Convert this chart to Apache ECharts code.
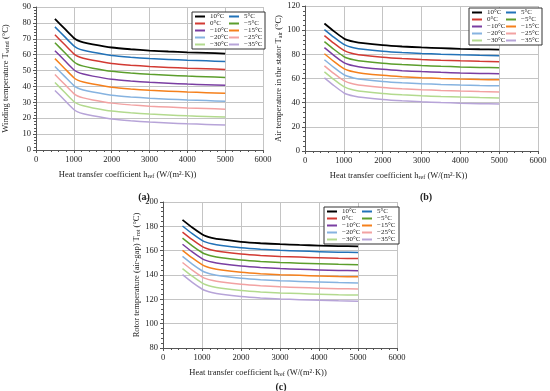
<!DOCTYPE html>
<html><head><meta charset="utf-8">
<script src="https://cdn.jsdelivr.net/npm/echarts@6/dist/echarts.min.js"></script>
<style>html,body{margin:0;padding:0;background:#fff}#c{width:550px;height:391px}</style>
</head><body><div id="c"></div>
<script>
// x values (heat transfer coefficient h_ref, W/(m²·K))
var hRef = [500, 750, 1000, 1100, 1250, 1500, 2000, 2500, 3000, 3500, 4000, 4500, 5000];
var seriesNames = ['10°C', '5°C', '0°C', '−5°C', '−10°C', '−15°C', '−20°C', '−25°C', '−30°C', '−35°C'];
var xTicks = [0, 1000, 2000, 3000, 4000, 5000, 6000];

// (a) Winding temperature
var windT = [
  [82.5, 76.5, 70.5, 69.0, 67.8, 66.5, 64.5, 63.4, 62.6, 62.0, 61.5, 61.1, 60.7],
  [77.5, 71.5, 65.5, 64.0, 62.8, 61.5, 59.5, 58.4, 57.6, 57.0, 56.5, 56.1, 55.7],
  [72.5, 66.5, 60.5, 59.0, 57.8, 56.5, 54.5, 53.4, 52.6, 52.0, 51.5, 51.1, 50.7],
  [67.5, 61.5, 55.5, 54.0, 52.8, 51.5, 49.5, 48.4, 47.6, 47.0, 46.5, 46.1, 45.7],
  [62.5, 56.5, 50.5, 49.0, 47.8, 46.5, 44.5, 43.4, 42.6, 42.0, 41.5, 41.1, 40.7],
  [57.5, 51.5, 45.5, 44.0, 42.8, 41.5, 39.5, 38.4, 37.6, 37.0, 36.5, 36.1, 35.7],
  [52.5, 46.5, 40.5, 39.0, 37.8, 36.5, 34.5, 33.4, 32.6, 32.0, 31.5, 31.1, 30.7],
  [47.5, 41.5, 35.5, 34.0, 32.8, 31.5, 29.5, 28.4, 27.6, 27.0, 26.5, 26.1, 25.7],
  [42.5, 36.5, 30.5, 29.0, 27.8, 26.5, 24.5, 23.4, 22.6, 22.0, 21.5, 21.1, 20.7],
  [37.5, 31.5, 25.5, 24.0, 22.8, 21.5, 19.5, 18.4, 17.6, 17.0, 16.5, 16.1, 15.7]
];
// (b) Air temperature in the stator
var airT = [
  [105.5, 99.0, 93.2, 91.8, 90.5, 89.2, 87.6, 86.5, 85.7, 85.1, 84.6, 84.2, 83.9],
  [100.5, 94.0, 88.2, 86.8, 85.5, 84.2, 82.6, 81.5, 80.7, 80.1, 79.6, 79.2, 78.9],
  [95.5, 89.0, 83.2, 81.8, 80.5, 79.2, 77.6, 76.5, 75.7, 75.1, 74.6, 74.2, 73.9],
  [90.5, 84.0, 78.2, 76.8, 75.5, 74.2, 72.6, 71.5, 70.7, 70.1, 69.6, 69.2, 68.9],
  [85.5, 79.0, 73.2, 71.8, 70.5, 69.2, 67.6, 66.5, 65.7, 65.1, 64.6, 64.2, 63.9],
  [80.5, 74.0, 68.2, 66.8, 65.5, 64.2, 62.6, 61.5, 60.7, 60.1, 59.6, 59.2, 58.9],
  [75.5, 69.0, 63.2, 61.8, 60.5, 59.2, 57.6, 56.5, 55.7, 55.1, 54.6, 54.2, 53.9],
  [70.5, 64.0, 58.2, 56.8, 55.5, 54.2, 52.6, 51.5, 50.7, 50.1, 49.6, 49.2, 48.9],
  [65.5, 59.0, 53.2, 51.8, 50.5, 49.2, 47.6, 46.5, 45.7, 45.1, 44.6, 44.2, 43.9],
  [60.5, 54.0, 48.2, 46.8, 45.5, 44.2, 42.6, 41.5, 40.7, 40.1, 39.6, 39.2, 38.9]
];
// (c) Rotor temperature (air-gap)
var rotT = [
  [185.3, 179.0, 173.5, 172.0, 170.6, 169.2, 167.3, 166.1, 165.3, 164.7, 164.2, 163.8, 163.5],
  [180.3, 174.0, 168.5, 167.0, 165.6, 164.2, 162.3, 161.1, 160.3, 159.7, 159.2, 158.8, 158.5],
  [175.3, 169.0, 163.5, 162.0, 160.6, 159.2, 157.3, 156.1, 155.3, 154.7, 154.2, 153.8, 153.5],
  [170.3, 164.0, 158.5, 157.0, 155.6, 154.2, 152.3, 151.1, 150.3, 149.7, 149.2, 148.8, 148.5],
  [165.3, 159.0, 153.5, 152.0, 150.6, 149.2, 147.3, 146.1, 145.3, 144.7, 144.2, 143.8, 143.5],
  [160.3, 154.0, 148.5, 147.0, 145.6, 144.2, 142.3, 141.1, 140.3, 139.7, 139.2, 138.8, 138.5],
  [155.3, 149.0, 143.5, 142.0, 140.6, 139.2, 137.3, 136.1, 135.3, 134.7, 134.2, 133.8, 133.5],
  [150.3, 144.0, 138.5, 137.0, 135.6, 134.2, 132.3, 131.1, 130.3, 129.7, 129.2, 128.8, 128.5],
  [145.3, 139.0, 133.5, 132.0, 130.6, 129.2, 127.3, 126.1, 125.3, 124.7, 124.2, 123.8, 123.5],
  [140.3, 134.0, 128.5, 127.0, 125.6, 124.2, 122.3, 121.1, 120.3, 119.7, 119.2, 118.8, 118.5]
];
var windTicks = [0, 10, 20, 30, 40, 50, 60, 70, 80, 90];
var airTicks = [0, 20, 40, 60, 80, 100, 120];
var rotTicks = [80, 100, 120, 140, 160, 180, 200];

var colors = ['#000000', '#2272b8', '#d23a33', '#5c9e2c', '#7a3ea2', '#f5801c', '#86b3e0', '#f2a2a2', '#b3da8e', '#b7a4d8'];
var FONT = 'Liberation Serif';
var subRich = { s: { fontSize: 6, fontFamily: FONT, color: '#222', verticalAlign: 'bottom', padding: [3, 0, 0, 0] } };
var plainNum = function (v) { return String(v); };

function xAxisCfg(gi, padR) {
  return {
    type: 'value', gridIndex: gi, min: xTicks[0], max: xTicks[xTicks.length - 1], interval: xTicks[1] - xTicks[0],
    name: 'Heat transfer coefficient h{s|ref} (W/(m²·K))', nameLocation: 'middle', nameGap: 20,
    nameTextStyle: { fontFamily: FONT, fontSize: 8.5, color: '#222', padding: [0, padR, 0, 0], rich: subRich },
    axisLine: { show: true, lineStyle: { color: '#555', width: 1 } },
    axisTick: { show: true, length: 3, lineStyle: { color: '#555' } },
    minorTick: { show: true, splitNumber: 5, length: 2, lineStyle: { color: '#555' } },
    axisLabel: { fontFamily: FONT, fontSize: 8.5, color: '#222', margin: 5, formatter: plainNum },
    splitLine: { show: true, lineStyle: { color: '#c4c4c4', width: 1 } }
  };
}
function yAxisCfg(gi, ticks, name, gap) {
  return {
    type: 'value', gridIndex: gi, min: ticks[0], max: ticks[ticks.length - 1], interval: ticks[1] - ticks[0],
    name: name, nameLocation: 'middle', nameGap: gap, nameRotate: 90,
    nameTextStyle: { fontFamily: FONT, fontSize: 8.5, color: '#222', rich: subRich },
    axisLine: { show: true, lineStyle: { color: '#555', width: 1 } },
    axisTick: { show: true, length: 3, lineStyle: { color: '#555' } },
    minorTick: { show: true, splitNumber: 5, length: 2, lineStyle: { color: '#555' } },
    axisLabel: { fontFamily: FONT, fontSize: 8.5, color: '#222', margin: 5, formatter: plainNum },
    splitLine: { show: true, lineStyle: { color: '#c4c4c4', width: 1 } }
  };
}
function legendCfg(left, top, tw) {
  return {
    left: left, top: top, orient: 'horizontal', width: 2 * (10 + 5 + tw) + 1,
    itemWidth: 10, itemHeight: 2, itemGap: 0, padding: [1, 2, 1, 3],
    borderColor: '#333', borderWidth: 1, backgroundColor: '#fff',
    data: seriesNames, icon: 'rect',
    formatter: '{a|{name}}',
    textStyle: { fontFamily: FONT, fontSize: 7, color: '#222',
      rich: { a: { width: tw, fontFamily: FONT, fontSize: 7, lineHeight: 7, color: '#222' } } }
  };
}

var series = [];
[windT, airT, rotT].forEach(function (set, gi) {
  set.forEach(function (vals, si) {
    series.push({
      type: 'line', name: seriesNames[si], xAxisIndex: gi, yAxisIndex: gi,
      data: hRef.map(function (x, k) { return [x, vals[k]]; }),
      symbol: 'none', smooth: 0.25, z: 10 - si,
      lineStyle: { color: colors[si], width: si === 0 ? 1.8 : 1.5 },
      itemStyle: { color: colors[si] }
    });
  });
});

var chart = echarts.init(document.getElementById('c'), null, { renderer: 'canvas' });
chart.setOption({
  animation: false,
  backgroundColor: '#fff',
  title: [
    { text: '(a)', left: 139, top: 187, textAlign: 'center', textStyle: { fontFamily: FONT, fontSize: 10, fontWeight: 'bold', color: '#222' } },
    { text: '(b)', left: 421, top: 187, textAlign: 'center', textStyle: { fontFamily: FONT, fontSize: 10, fontWeight: 'bold', color: '#222' } },
    { text: '(c)', left: 276, top: 377, textAlign: 'center', textStyle: { fontFamily: FONT, fontSize: 10, fontWeight: 'bold', color: '#222' } }
  ],
  grid: [
    { left: 34, top: 7, width: 229, height: 143 },
    { left: 305, top: 6, width: 233, height: 145 },
    { left: 163, top: 202, width: 234, height: 146 }
  ],
  xAxis: [xAxisCfg(0, 44), xAxisCfg(1, 46), xAxisCfg(2, 44)],
  yAxis: [
    yAxisCfg(0, windTicks, 'Winding temperature T{s|wind} (°C)', 26),
    yAxisCfg(1, airTicks, 'Air temperature in the stator T{s|air} (°C)', 22),
    yAxisCfg(2, rotTicks, 'Rotor temperature (air-gap) T{s|rot} (°C)', 20)
  ],
  legend: [legendCfg(192, 12, 19), legendCfg(469, 8, 19), legendCfg(324, 207, 20)],
  series: series
});
</script></body></html>
